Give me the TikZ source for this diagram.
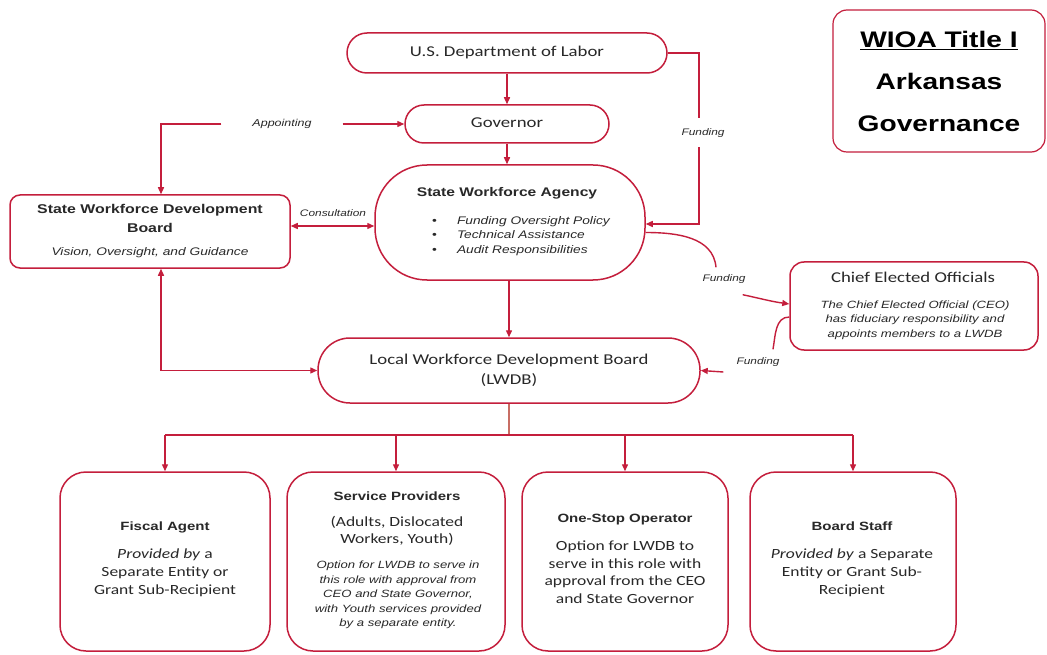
\documentclass[tikz,border=0pt]{standalone}
\usepackage{fontspec}
\usepackage{graphicx}
\setmainfont{Liberation Sans}
\newfontfamily\calf{Carlito}
\newfontfamily\arf{Liberation Sans}
\usetikzlibrary{arrows.meta}
\definecolor{crim}{RGB}{196,30,60}
\definecolor{txt}{RGB}{40,40,40}
\definecolor{stem}{RGB}{200,110,100}
\newcommand{\wt}[1]{\scalebox{1.25}[1]{\begin{tabular}{@{}c@{}}#1\end{tabular}}}
\newcommand{\wl}[1]{\scalebox{1.25}[1]{\begin{tabular}{@{}l@{\hspace{16pt}}l@{}}#1\end{tabular}}}
\tikzset{
  box/.style={draw=crim, line width=1.5pt, fill=white, inner sep=0pt, text=txt},
  lbl/.style={text=txt, inner sep=0pt},
  ital/.style={lbl, font=\arf\itshape\fontsize{#1}{14.5}\selectfont},
  bold/.style={lbl, font=\arf\bfseries\fontsize{#1}{18.5}\selectfont},
  cal/.style={font=\calf\fontsize{#1}{20}\selectfont},
  conn/.style={draw=crim, line width=1.4pt},
  arr/.style={conn, -{Triangle[length=7pt,width=6pt]}},
  darr/.style={conn, {Triangle[length=7pt,width=6pt]}-{Triangle[length=7pt,width=6pt]}},
  flab/.style={lbl, font=\arf\itshape\fontsize{9.5}{11}\selectfont, fill=white},
}
\begin{document}
\begin{tikzpicture}[x=1pt,y=-1pt]
\useasboundingbox (0,0) rectangle (1047,655);
\fill[white] (0,0) rectangle (1047,655);

% title box
\node[box, line width=1.2pt, rounded corners=14pt, minimum width=212pt, minimum height=142pt, text=black,
      font=\arf\bfseries\fontsize{22.5}{42}\selectfont] (title) at (939,81)
  {\wt{\underline{WIOA Title I}\\Arkansas\\Governance}};

% top chain
\node[box, rounded corners=20pt, minimum width=320pt, minimum height=40pt, cal=15] (dol) at (507,53)
  {\wt{U.S. Department of Labor}};
\node[box, rounded corners=19pt, minimum width=204pt, minimum height=38pt, cal=15] (gov) at (507,124)
  {\wt{Governor}};
\node[box, rounded corners=52pt, minimum width=270pt, minimum height=115pt] (swa) at (510,222.5) {};
\node[bold=12.5] (swaT) at (507,193) {\wt{State Workforce Agency}};
\node[lbl, anchor=west, font=\arf\itshape\fontsize{11}{15}\selectfont] (swaB) at (432,236)
  {\wl{\upshape\textbullet & Funding Oversight Policy\\ \upshape\textbullet & Technical Assistance\\ \upshape\textbullet & Audit Responsibilities}};

% state board
\node[box, rounded corners=10pt, minimum width=280pt, minimum height=73pt] (swdb) at (150,231.5) {};
\node[bold=12.7] (swdbT) at (150,219.5) {\wt{State Workforce Development\\Board}};
\node[ital=11] (swdbS) at (150,253) {\wt{Vision, Oversight, and Guidance}};

% chief elected officials
\node[box, rounded corners=14pt, minimum width=248pt, minimum height=88pt] (ceo) at (914,306) {};
\node[lbl, cal=15] (ceoT) at (913,279) {\wt{Chief Elected Officials}};
\node[ital=10.5] (ceoB) at (915,320) {\wt{The Chief Elected Official (CEO)\\has fiduciary responsibility and\\appoints members to a LWDB}};

% local board
\node[box, rounded corners=32pt, minimum width=382pt, minimum height=65pt, cal=15] (lwdb) at (509,370.5)
  {\wt{Local Workforce Development Board\\(LWDB)}};

% bottom boxes
\node[box, rounded corners=26pt, minimum width=210pt, minimum height=179pt] (fiscal) at (165,561.5) {};
\node[box, rounded corners=26pt, minimum width=218pt, minimum height=179pt] (service) at (396,561.5) {};
\node[box, rounded corners=26pt, minimum width=206pt, minimum height=179pt] (onestop) at (625,561.5) {};
\node[box, rounded corners=26pt, minimum width=206pt, minimum height=179pt] (staff) at (853,561.5) {};

\node[bold=12] (fiscalT) at (165,527) {\wt{Fiscal Agent}};
\node[lbl, font=\calf\fontsize{14}{18}\selectfont] (fiscalB) at (165,573) {\wt{\textit{Provided by} a\\Separate Entity or\\Grant Sub-Recipient}};

\node[bold=12] (serviceT) at (397,497) {\wt{Service Providers}};
\node[lbl, font=\calf\fontsize{14}{17}\selectfont] (serviceA) at (397,531.5) {\wt{(Adults, Dislocated\\Workers, Youth)}};
\node[ital=10.5] (serviceB) at (398,595) {\wt{Option for LWDB to serve in\\this role with approval from\\CEO and State Governor,\\with Youth services provided\\by a separate entity.}};

\node[bold=12] (onestopT) at (625,519) {\wt{One-Stop Operator}};
\node[lbl, font=\calf\fontsize{14}{17.7}\selectfont] (onestopB) at (625,573.5) {\wt{Option for LWDB to\\serve in this role with\\approval from the CEO\\and State Governor}};

\node[bold=12] (staffT) at (852,527) {\wt{Board Staff}};
\node[lbl, font=\calf\fontsize{14}{18}\selectfont] (staffB) at (852,573) {\wt{\textit{Provided by} a Separate\\Entity or Grant Sub-\\Recipient}};

% connectors top
\draw[arr] (dol.south) -- (gov.north);
\draw[arr] (gov.south) -- (gov.south |- swa.north);
\draw[arr] (swa.south -| lwdb.north) -- (lwdb.north);

% funding from DOL
\coordinate (fx) at (699,0);
\draw[arr] (dol.east) -- (dol.east -| fx) -- ([yshift=-1.5pt]swa.east -| fx) -- ([yshift=-1.5pt]swa.east);
\node[flab, inner xsep=3pt, inner ysep=9pt] (fundR) at (703,133) {\wt{Funding}};

% appointing
\node[lbl, font=\arf\itshape\fontsize{10}{12}\selectfont, inner xsep=31pt, inner ysep=2pt] (appT) at (282,124) {\wt{Appointing}};
\draw[arr] (appT.west) -| ([xshift=11pt]swdb.north);
\draw[arr] (appT.east) -- (gov.west);

% consultation
\node[lbl, font=\arf\itshape\fontsize{9.5}{11}\selectfont] (consT) at (333,214) {\wt{Consultation}};
\draw[darr] ([yshift=5.5pt]swdb.east) coordinate (c1) -- (c1 -| swa.west);

% state board <-> local board
\draw[darr] ([xshift=11pt]swdb.south) |- (lwdb.west);

% funding to CEO
\node[flab, inner sep=2pt] (fundA) at (724,279) {\wt{Funding}};
\draw[conn] ([yshift=-10pt]swa.east) to[out=0,in=95] ([xshift=-8pt,yshift=4pt]fundA.north);
\draw[arr] ([xshift=-5pt,yshift=-8pt]fundA.south east) to[out=-12,in=172] ([yshift=2pt]ceo.west);

% funding CEO to LWDB
\node[flab, inner sep=2pt] (fundB) at (758,362) {\wt{Funding}};
\draw[conn] ([yshift=-11pt]ceo.west) to[out=180,in=80] ([xshift=15pt,yshift=5pt]fundB.north);
\draw[arr] ([xshift=-11pt,yshift=-10pt]fundB.west) -- (lwdb.east);

% tree
\coordinate (bus) at (509,435);
\draw[draw=stem, line width=1.2pt] (lwdb.south) -- (bus);
\draw[conn] (fiscal.north |- bus) -- (staff.north |- bus);
\draw[arr] (fiscal.north |- bus) -- (fiscal.north);
\draw[arr] (service.north |- bus) -- (service.north);
\draw[arr] (onestop.north |- bus) -- (onestop.north);
\draw[arr] (staff.north |- bus) -- (staff.north);
\end{tikzpicture}
\end{document}
